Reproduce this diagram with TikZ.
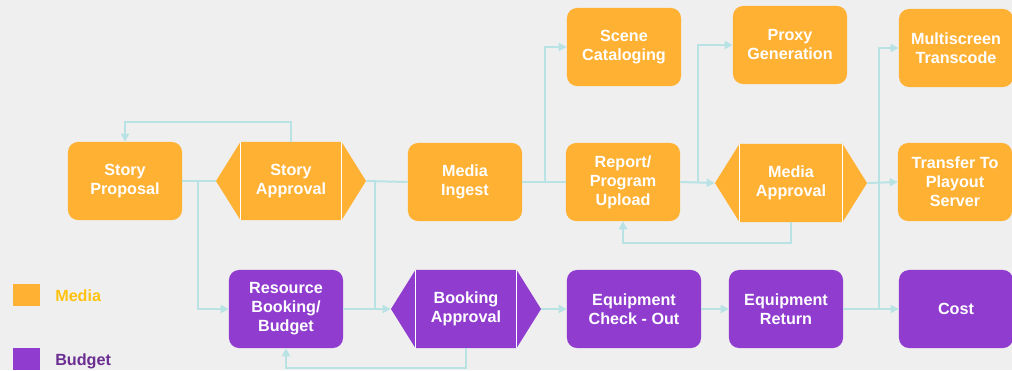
\documentclass[tikz,border=0pt]{standalone}
\usepackage{fontspec}
\setmainfont{Liberation Sans}
\usetikzlibrary{shapes.symbols,arrows.meta}
\definecolor{mediaorange}{HTML}{FFB134}
\definecolor{budgetpurple}{HTML}{8F3CCF}
\definecolor{linkcyan}{HTML}{B9E2E5}
\definecolor{bggray}{HTML}{EFEFEF}
\definecolor{mediatext}{HTML}{FFC20E}
\definecolor{budgettext}{HTML}{6A2D92}

\tikzset{
  label font/.style={font=\fontsize{11.5}{13.5}\selectfont\bfseries},
  box/.style={rounded corners=2.5mm, minimum width=28.5mm, minimum height=19.5mm, align=center, text=white, label font, inner sep=1mm},
  media/.style={box, fill=mediaorange},
  budget/.style={box, fill=budgetpurple},
  approval/.style={signal, signal to=west and east, signal pointer angle=116, minimum width=37.5mm, minimum height=19.5mm, align=center, text=white, label font, inner sep=0pt},
  link/.style={draw=linkcyan, line width=1.4pt},
  arr/.style={link, -{Triangle[length=2mm,width=2mm]}},
  sep/.style={draw=white, line width=1pt},
  legendbox/.style={minimum width=6.75mm, minimum height=5.5mm, inner sep=0pt}
}
\newcommand\approvallines[1]{%
  \draw[sep] ([xshift=6.25mm]#1.west |- #1.north) -- ([xshift=6.25mm]#1.west |- #1.south);
  \draw[sep] ([xshift=-6.25mm]#1.east |- #1.north) -- ([xshift=-6.25mm]#1.east |- #1.south);}

\begin{document}
\begin{tikzpicture}[x=0.025cm,y=-0.025cm]
  \fill[bggray] (0,0) rectangle (1012,370);
  \useasboundingbox (0,0) rectangle (1012,370);

  % media row
  \node[media] (sp) at (125,181) {Story\\Proposal};
  \node[approval, fill=mediaorange] (sa) at (291,181) {Story\\Approval};
  \node[media] (mi) at (465,182) {Media\\Ingest};
  \node[media] (sc) at (624,47) {Scene\\Cataloging};
  \node[media] (ru) at (623,182) {Report/\\Program\\Upload};
  \node[media] (pg) at (790,45) {Proxy\\Generation};
  \node[approval, fill=mediaorange, minimum width=38mm] (ma) at (791,183) {Media\\Approval};
  \node[media] (mt) at (956,48) {Multiscreen\\Transcode};
  \node[media] (tp) at (955,182) {Transfer To\\Playout\\Server};

  % budget row
  \node[budget] (rb) at (286,309) {Resource\\Booking/\\Budget};
  \node[approval, fill=budgetpurple] (ba) at (466,309) {Booking\\Approval};
  \node[budget, minimum width=33.5mm] (ec) at (634,309) {Equipment\\Check - Out};
  \node[budget] (er) at (786,309) {Equipment\\Return};
  \node[budget] (co) at (956,309) {Cost};

  \approvallines{sa}
  \approvallines{ma}
  \approvallines{ba}

  % legend
  \node[legendbox, fill=mediaorange] (lm) at (26.5,295) {};
  \node[legendbox, fill=budgetpurple] (lb) at (26.5,359) {};
  \node[anchor=west, text=mediatext, label font, inner sep=0pt] (lmt) at (55,296) {Media};
  \node[anchor=west, text=budgettext, label font, inner sep=0pt] (lbt) at (55,361) {Budget};

  % connectors
  \draw[arr] (sa.north) -- ++(0,-20) -| (sp.north);
  \draw[link] (sp.east) -- (sa.west);
  \draw[arr] ([xshift=4mm]sp.east) |- (rb.west);
  \draw[link] (sa.east) -- (mi.west);
  \draw[link] ([xshift=2.25mm]sa.east) -- ([xshift=2.25mm]sa.east |- ba.west);
  \draw[arr] (rb.east) -- (ba.west);
  \draw[arr] (ba.south) -- ++(0,20) -| (rb.south);
  \draw[arr] (ba.east) -- (ec.west);
  \draw[arr] (ec.east) -- (er.west);
  \draw[arr] (er.east) -- (co.west);
  \draw[link] (mi.east) -- (ru.west);
  \draw[arr] ([xshift=5.75mm]mi.east) |- (sc.west);
  \draw[arr] (ru.east) -- (ma.west);
  \draw[arr] ([xshift=4.5mm]ru.east) |- (pg.west);
  \draw[arr] (ma.south) -- ++(0,21) -| (ru.south);
  \draw[arr] (ma.east) -- (tp.west);
  \draw[arr] ([xshift=3mm]ma.east) |- (mt.west);
  \draw[link] ([xshift=3mm]ma.east) -- ([xshift=3mm]ma.east |- co.west);
\end{tikzpicture}
\end{document}
